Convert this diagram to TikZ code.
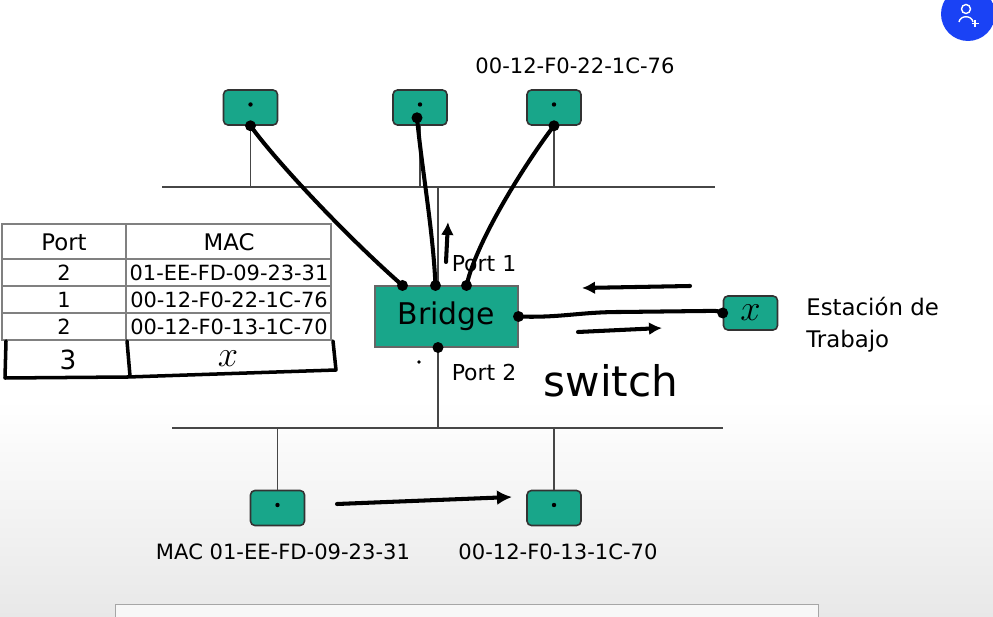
\documentclass[tikz,border=0pt]{standalone}
\usepackage{fontspec}
\setmainfont{DejaVu Sans}
\usetikzlibrary{arrows.meta}
\usetikzlibrary{calc}
\usetikzlibrary{positioning}
\definecolor{hostgreen}{RGB}{24,166,138}
\definecolor{wire}{RGB}{70,70,70}
\definecolor{uiblue}{RGB}{26,66,245}
\tikzstyle{host} = [rectangle, draw=black!80, line width=0.9pt, fill=hostgreen, rounded corners=2.5pt, minimum width=1.08cm, minimum height=0.7cm, inner sep=0pt]
\tikzstyle{bridge} = [rectangle, draw=black!60, line width=0.6pt, fill=hostgreen, minimum width=2.86cm, minimum height=1.22cm, inner sep=0pt, font=\fontsize{17}{20}\selectfont]
\tikzstyle{bus} = [draw=wire, line width=0.7pt]
\tikzstyle{tabline} = [draw=black!50, line width=0.6pt]
\tikzstyle{ink} = [draw=black, line width=2.3pt, line cap=round, line join=round]
\tikzstyle{maclabel} = [inner sep=0pt, font=\fontsize{12}{14}\selectfont]
\tikzstyle{tabtext} = [inner sep=0pt, font=\fontsize{11.9}{13}\selectfont]
\tikzstyle{tabhead} = [inner sep=0pt, font=\fontsize{13}{15}\selectfont]

\begin{document}
\begin{tikzpicture}[x=0.02cm,y=-0.02cm]
	\useasboundingbox (0,0) rectangle (993,617);

	% background
	\shade[top color=white, bottom color=black!9] (0,400) rectangle (993,617);
	\filldraw[fill=black!3, draw=black!35] (115,604) rectangle (818,630);
	\fill[uiblue] (968,14) circle (27);
	\draw[white, line width=0.8pt] (966,9) circle (4.5);
	\draw[white, line width=0.8pt] (959,22) .. controls (960,15) and (972,15) .. (973,22);
	\draw[white, line width=0.7pt] (975,20) -- (975,27) (971.5,23.5) -- (978.5,23.5);

	% hosts and bridge
	\node [host] (H1) at (250.5,107.5) {};
	\node [host] (H2) at (420,107.5) {};
	\node [host] (H3) at (554,107.5) {};
	\node [host] (H4) at (277.5,508) {};
	\node [host] (H5) at (554,508) {};
	\node [host, minimum height=0.68cm] (W) at (750.5,313) {\fontsize{22}{22}\selectfont$x$};
	\node [bridge] (Br) at (446.5,316.5) {Bridge};

	\foreach \h in {H1,H2,H3,H4,H5}
		\fill ($(\h.center)+(0,-3)$) circle (2.2);

	% labels
	\node [maclabel] (L3) at (575,66) {00-12-F0-22-1C-76};
	\node [maclabel] (L4) at (283,552) {MAC 01-EE-FD-09-23-31};
	\node [maclabel] (L5) at (558,552) {00-12-F0-13-1C-70};
	\node [maclabel, font=\fontsize{12.5}{14}\selectfont] (P1) at (484,264) {Port 1};
	\node [maclabel, font=\fontsize{12.5}{14}\selectfont] (P2) at (484,373) {Port 2};
	\node [maclabel, anchor=west, align=left, font=\fontsize{13}{18}\selectfont] (WL) at (806,325) {Estación de\\Trabajo};

	% buses
	\coordinate (TopBus) at (438,187);
	\coordinate (LowBus) at (438,428);
	\draw[bus] (162,187) -- (715,187);
	\draw[bus] (172,428) -- (723,428);
	\draw[bus] (Br.north -| TopBus) -- (TopBus);
	\draw[bus] (Br.south -| LowBus) -- (LowBus);
	\draw[bus] (H1.south) -- (H1.south |- TopBus);
	\draw[bus] (H2.south) -- (H2.south |- TopBus);
	\draw[bus] (H3.south) -- (H3.south |- TopBus);
	\draw[bus] (H4.north) -- (H4.north |- LowBus);
	\draw[bus] (H5.north) -- (H5.north |- LowBus);

	% table
	\draw[tabline] (2,224) rectangle (331,340);
	\draw[tabline] (2,259) -- (331,259) (2,286) -- (331,286) (2,313) -- (331,313) (126,224) -- (126,340);
	\node [tabhead] (T0a) at (64,242) {Port};
	\node [tabhead] (T0b) at (229,242) {MAC};
	\node [tabtext] (T1a) at (64,273) {2};
	\node [tabtext] (T1b) at (229,273) {01-EE-FD-09-23-31};
	\node [tabtext] (T2a) at (64,300) {1};
	\node [tabtext] (T2b) at (229,300) {00-12-F0-22-1C-76};
	\node [tabtext] (T3a) at (64,327) {2};
	\node [tabtext] (T3b) at (229,327) {00-12-F0-13-1C-70};
	% handwritten row
	\draw[ink, line width=2pt] (6,341) -- (5,378) -- (128,377) -- (336,370) -- (333,341);
	\draw[ink, line width=2pt] (127,341) -- (130,376);
	\node [inner sep=0pt, font=\fontsize{15}{15}\selectfont] (T4a) at (68,360) {3};
	\node [inner sep=0pt, font=\fontsize{20}{20}\selectfont] (T4b) at (228,359) {$x$};

	% connection points
	\coordinate (s1) at (H1.south);
	\coordinate (s2) at ($(H2.south)+(-3,-8)$);
	\coordinate (s3) at (H3.south);
	\coordinate (b1) at ($(Br.north west)+(28,0)$);
	\coordinate (b2) at ($(Br.north west)+(61,0)$);
	\coordinate (b3) at ($(Br.north west)+(92,0)$);
	\coordinate (b4) at ($(Br.south)+(-8.5,0)$);

	% connections
	\draw[ink] (s1) .. controls (275,160) and (345,235) .. (b1);
	\draw[ink] (s2) .. controls (422,170) and (433,230) .. (b2);
	\draw[ink] (s3) .. controls (535,150) and (478,235) .. (b3);
	\draw[ink] (Br.east) .. controls (560,318) and (580,312) .. (620,312) -- (705,311) .. controls (712,311) and (718,310) .. (W.west);
	\foreach \p in {s1,s2,s3,b1,b2,b3,b4,Br.east,W.west}
		\fill (\p) circle (5.5);
	\fill (419,362) circle (1.8);

	% annotation arrows
	\coordinate (u0) at (446,262);
	\coordinate (u1) at (448,222);
	\coordinate (l0) at (690,286);
	\coordinate (l1) at (582,288);
	\coordinate (r0) at (578,332);
	\coordinate (r1) at (662,328);
	\coordinate (m0) at (337,504);
	\coordinate (m1) at (512,497);
	\draw[ink, -{Latex[length=2.6mm, width=2.6mm]}] (u0) -- (u1);
	\draw[ink, -{Latex[length=2.6mm, width=2.6mm]}] (l0) -- (l1);
	\draw[ink, -{Latex[length=2.6mm, width=2.6mm]}] (r0) -- (r1);
	\draw[ink, -{Latex[length=3mm, width=3mm]}] (m0) -- (m1);
	\node [inner sep=0pt, font=\fontsize{24}{24}\selectfont] (Sw) at (611,381) {switch};

\end{tikzpicture}
\end{document}
